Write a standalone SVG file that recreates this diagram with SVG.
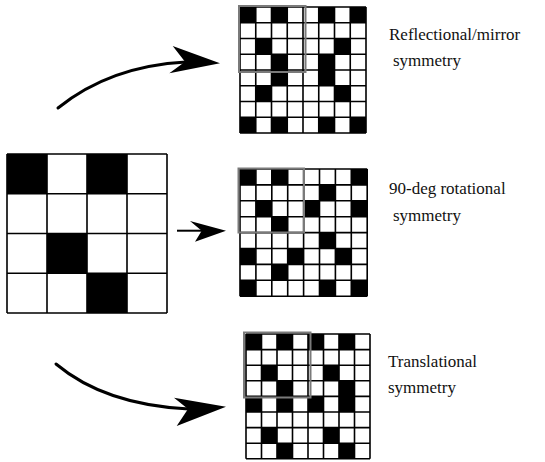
<svg xmlns="http://www.w3.org/2000/svg" xmlns:xlink="http://www.w3.org/1999/xlink" width="545" height="462" viewBox="0 0 545 462">
<style>
.bg{fill:#fff}
.blk{fill:#000}
.lines{fill:none;stroke:#000;stroke-width:1.6}
.win{fill:none;stroke:#7a7a7a;stroke-width:2}
.curve{fill:none;stroke:#000;stroke-width:3;stroke-linecap:round}
.straight{fill:none;stroke:#000;stroke-width:2}
.head{fill:#000}
.lbl{font-family:"Liberation Serif","Times New Roman",serif;font-size:17px;fill:#111}
</style>
<defs>
<path id="g8" class="lines" vector-effect="non-scaling-stroke" d="M0 0V8M1 0V8M2 0V8M3 0V8M4 0V8M5 0V8M6 0V8M7 0V8M8 0V8M0 0H8M0 1H8M0 2H8M0 3H8M0 4H8M0 5H8M0 6H8M0 7H8M0 8H8"/>
<path id="g4" class="lines" vector-effect="non-scaling-stroke" d="M0 0V4M1 0V4M2 0V4M3 0V4M4 0V4M0 0H4M0 1H4M0 2H4M0 3H4M0 4H4"/>
</defs>
<rect width="545" height="462" fill="#fff"/>

<g id="source-grid" transform="translate(7 154) scale(40 39.75)">
<rect class="bg" width="4" height="4"/>
<rect class="blk" x="0" y="0" width="1" height="1"/>
<rect class="blk" x="2" y="0" width="1" height="1"/>
<rect class="blk" x="1" y="2" width="1" height="1"/>
<rect class="blk" x="2" y="3" width="1" height="1"/>
<use xlink:href="#g4"/>
</g>

<g id="reflection-grid">
<g transform="translate(240 7) scale(15.75)">
<rect class="bg" width="8" height="8"/>
<rect class="blk" x="0" y="0" width="1" height="1"/><rect class="blk" x="2" y="0" width="1" height="1"/><rect class="blk" x="5" y="0" width="1" height="1"/><rect class="blk" x="7" y="0" width="1" height="1"/>
<rect class="blk" x="1" y="2" width="1" height="1"/><rect class="blk" x="6" y="2" width="1" height="1"/>
<rect class="blk" x="2" y="3" width="1" height="1"/><rect class="blk" x="5" y="3" width="1" height="1"/>
<rect class="blk" x="2" y="4" width="1" height="1"/><rect class="blk" x="5" y="4" width="1" height="1"/>
<rect class="blk" x="1" y="5" width="1" height="1"/><rect class="blk" x="6" y="5" width="1" height="1"/>
<rect class="blk" x="0" y="7" width="1" height="1"/><rect class="blk" x="2" y="7" width="1" height="1"/><rect class="blk" x="5" y="7" width="1" height="1"/><rect class="blk" x="7" y="7" width="1" height="1"/>
<use xlink:href="#g8"/>
</g>
<rect class="win" x="239" y="6" width="66.5" height="66"/>
</g>

<g id="rotation-grid">
<g transform="translate(240 169) scale(15.9)">
<rect class="bg" width="8" height="8"/>
<rect class="blk" x="0" y="0" width="1" height="1"/><rect class="blk" x="2" y="0" width="1" height="1"/><rect class="blk" x="7" y="0" width="1" height="1"/>
<rect class="blk" x="5" y="1" width="1" height="1"/>
<rect class="blk" x="1" y="2" width="1" height="1"/><rect class="blk" x="4" y="2" width="1" height="1"/><rect class="blk" x="7" y="2" width="1" height="1"/>
<rect class="blk" x="2" y="3" width="1" height="1"/>
<rect class="blk" x="5" y="4" width="1" height="1"/>
<rect class="blk" x="0" y="5" width="1" height="1"/><rect class="blk" x="3" y="5" width="1" height="1"/><rect class="blk" x="6" y="5" width="1" height="1"/>
<rect class="blk" x="2" y="6" width="1" height="1"/>
<rect class="blk" x="0" y="7" width="1" height="1"/><rect class="blk" x="5" y="7" width="1" height="1"/><rect class="blk" x="7" y="7" width="1" height="1"/>
<use xlink:href="#g8"/>
</g>
<rect class="win" x="238.5" y="168.5" width="65.5" height="64"/>
</g>

<g id="translation-grid">
<g transform="translate(246 334) scale(15.5 15.6)">
<rect class="bg" width="8" height="8"/>
<rect class="blk" x="0" y="0" width="1" height="1"/><rect class="blk" x="2" y="0" width="1" height="1"/><rect class="blk" x="4" y="0" width="1" height="1"/><rect class="blk" x="6" y="0" width="1" height="1"/>
<rect class="blk" x="1" y="2" width="1" height="1"/><rect class="blk" x="5" y="2" width="1" height="1"/>
<rect class="blk" x="2" y="3" width="1" height="1"/><rect class="blk" x="6" y="3" width="1" height="1"/>
<rect class="blk" x="0" y="4" width="1" height="1"/><rect class="blk" x="2" y="4" width="1" height="1"/><rect class="blk" x="4" y="4" width="1" height="1"/><rect class="blk" x="6" y="4" width="1" height="1"/>
<rect class="blk" x="1" y="6" width="1" height="1"/><rect class="blk" x="5" y="6" width="1" height="1"/>
<rect class="blk" x="2" y="7" width="1" height="1"/><rect class="blk" x="6" y="7" width="1" height="1"/>
<use xlink:href="#g8"/>
</g>
<rect class="win" x="244" y="332.5" width="66.5" height="65"/>
</g>

<g id="connectors">
<path class="curve" d="M58 108Q110 66 186 62"/>
<polygon class="head" points="220,63.3 172.7,46 185,61.7 169.3,73.3"/>
<path class="straight" d="M177 230.7H205"/>
<polygon class="head" points="226,230.7 190,221 201.7,230.7 195,241.7"/>
<path class="curve" d="M56 364Q105 405 189 409"/>
<polygon class="head" points="226,406.7 174,397.7 188,409 176.7,426"/>
</g>

<g id="labels">
<text class="lbl" x="389" y="40">Reflectional/mirror</text>
<text class="lbl" x="393" y="66">symmetry</text>
<text class="lbl" x="389" y="194">90-deg rotational</text>
<text class="lbl" x="393" y="221">symmetry</text>
<text class="lbl" x="388" y="366.5">Translational</text>
<text class="lbl" x="388" y="393">symmetry</text>
</g>
</svg>
